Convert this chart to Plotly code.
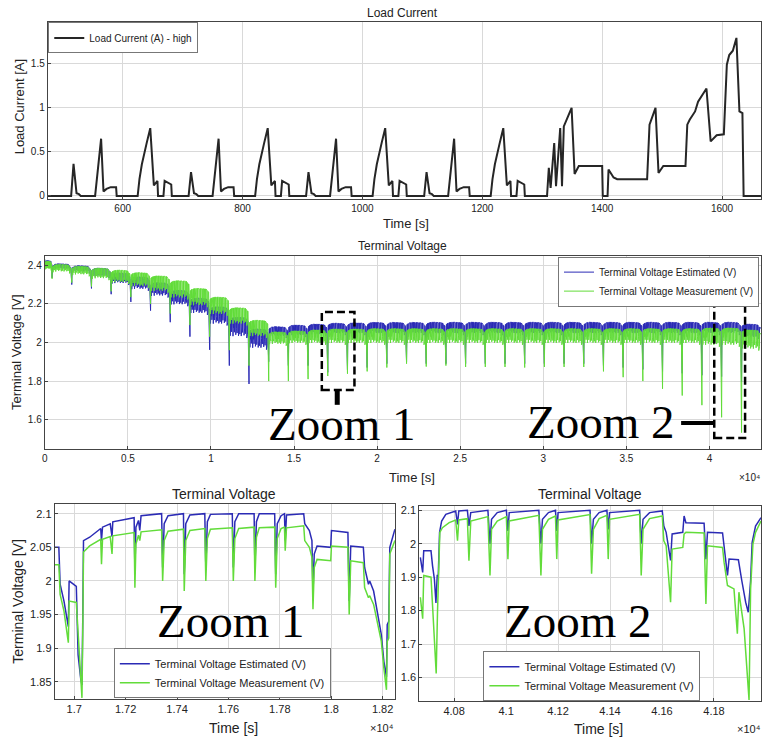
import numpy as np
import plotly.graph_objects as go

W, H = 762, 743

# ---------------- Load current (top panel) ----------------
cur_t = [475, 514, 518, 523, 527, 530,
         554, 559, 564, 568, 573, 580, 589, 590,
         625, 628, 632, 640, 646, 652, 656, 658, 659, 668, 670, 677, 681, 682,
         710, 714, 719, 723, 726,
         750, 755, 760, 764, 769, 776, 785, 786,
         821, 824, 828, 836, 842, 848, 852, 854, 855, 864, 866, 873, 877, 878,
         906, 910, 915, 919, 922,
         946, 951, 956, 960, 965, 972, 981, 982,
         1017, 1020, 1024, 1032, 1038, 1044, 1048, 1050, 1051, 1060, 1062, 1069, 1073, 1074,
         1103, 1107, 1112, 1116, 1119,
         1143, 1148, 1153, 1157, 1162, 1169, 1178, 1179,
         1214, 1217, 1221, 1229, 1235, 1241, 1245, 1247, 1248, 1257, 1259, 1266, 1270, 1271,
         1308, 1311, 1314, 1320, 1323, 1330, 1333, 1336, 1349, 1354, 1361, 1400, 1401,
         1409, 1410.6, 1419, 1425, 1475, 1479, 1489, 1494, 1502, 1539, 1542, 1546, 1555,
         1560, 1574, 1581, 1591, 1603, 1608, 1612, 1618, 1624, 1629, 1634, 1636, 1665]
cur_a = [0, 0, 0.365, 0.03, 0.02, 0,
         0, 0.33, 0.65, 0.05, 0.08, 0.1, 0.1, 0,
         0, 0.19, 0.36, 0.6, 0.77, 0.12, 0.15, 0.17, 0, 0, 0.17, 0.14, 0.13, 0,
         0, 0.27, 0.03, 0.02, 0,
         0, 0.33, 0.65, 0.05, 0.08, 0.1, 0.1, 0,
         0, 0.19, 0.36, 0.6, 0.77, 0.12, 0.15, 0.17, 0, 0, 0.17, 0.14, 0.13, 0,
         0, 0.27, 0.03, 0.02, 0,
         0, 0.33, 0.65, 0.05, 0.08, 0.1, 0.1, 0,
         0, 0.19, 0.36, 0.6, 0.77, 0.12, 0.15, 0.17, 0, 0, 0.17, 0.14, 0.13, 0,
         0, 0.27, 0.03, 0.02, 0,
         0, 0.33, 0.65, 0.05, 0.08, 0.1, 0.1, 0,
         0, 0.19, 0.36, 0.6, 0.77, 0.12, 0.15, 0.17, 0, 0, 0.17, 0.14, 0.13, 0,
         0, 0.32, 0.09, 0.6, 0.11, 0.77, 0.11, 0.79, 1.0, 0.25, 0.34, 0.34, 0,
         0, 0.3, 0.21, 0.19, 0.19, 0.81, 1.0, 0.26, 0.34, 0.34, 0.81, 0.865, 0.96,
         1.07, 1.22, 0.62, 0.69, 0.7, 1.49, 1.6, 1.65, 1.795, 0.96, 0.94, 0, 0]

# ---------------- Terminal voltage overview (middle panel) ----------------
dip_t = [440, 1625, 2810, 3995, 5180, 6365, 7550, 8735, 9920, 11105, 12290, 13475,
         14660, 15845, 17030, 18215, 19400, 20585, 21770, 22955, 24140, 25325, 26510,
         27695, 28880, 30065, 31250, 32435, 33620, 34805, 35990, 37175, 38360, 39545,
         40730, 41930]
est_top = [2.425, 2.408, 2.398, 2.385, 2.36, 2.34, 2.31, 2.27, 2.23, 2.185, 2.13, 2.07,
           2.082, 2.09, 2.095, 2.1, 2.102, 2.104, 2.104, 2.104, 2.105, 2.105, 2.105,
           2.105, 2.105, 2.105, 2.105, 2.105, 2.105, 2.105, 2.105, 2.105, 2.105, 2.105,
           2.105, 2.105, 2.095]
est_low = [2.405, 2.385, 2.37, 2.345, 2.31, 2.28, 2.245, 2.2, 2.155, 2.1, 2.035, 1.975,
           2.035, 2.04, 2.045, 2.05, 2.05, 2.05, 2.05, 2.05, 2.05, 2.05, 2.05, 2.05, 2.05,
           2.05, 2.05, 2.05, 2.05, 2.05, 2.05, 2.05, 2.05, 2.05, 2.05, 2.05, 2.03]
meas_top = [2.422, 2.405, 2.395, 2.385, 2.375, 2.362, 2.345, 2.32, 2.28, 2.235, 2.18,
            2.115, 2.055, 2.06, 2.065, 2.07, 2.07, 2.072, 2.072, 2.072, 2.072, 2.072,
            2.072, 2.072, 2.072, 2.072, 2.072, 2.072, 2.072, 2.072, 2.072, 2.072, 2.072,
            2.072, 2.075, 2.075, 2.065]
meas_low = [2.385, 2.37, 2.355, 2.335, 2.315, 2.295, 2.27, 2.235, 2.195, 2.15, 2.1, 2.035,
            1.995, 2.0, 2.0, 2.0, 2.0, 2.0, 2.0, 2.0, 2.0, 2.0, 2.0, 2.0, 2.0, 2.0, 2.0,
            2.0, 2.0, 2.0, 2.0, 2.0, 2.0, 2.0, 1.99, 1.99, 1.97]
est_dip = [2.335, 2.30, 2.28, 2.25, 2.21, 2.165, 2.105, 2.03, 1.962, 1.88, 1.785, 1.90,
           1.88, 1.88, 1.845, 1.857, 1.87, 1.89, 1.90, 1.89, 1.89, 1.89, 1.89, 1.89, 1.89,
           1.89, 1.89, 1.89, 1.88, 1.87, 1.86, 1.85, 1.84, 1.83, 1.823, 1.795]
meas_dip = [2.33, 2.31, 2.29, 2.265, 2.235, 2.20, 2.15, 2.09, 2.03, 1.96, 1.88, 1.80,
            1.80, 1.81, 1.826, 1.838, 1.85, 1.87, 1.89, 1.875, 1.88, 1.873, 1.873, 1.873,
            1.87, 1.873, 1.873, 1.873, 1.85, 1.82, 1.80, 1.76, 1.725, 1.675, 1.612, 1.533]
start_v = 2.43
x_end = 43100

# ---------------- Zoom 1 ----------------
z1_t = [16924, 16940, 16945, 16960, 16977, 16980, 17008, 17015, 17025, 17030, 17033, 17036,
        17060, 17085, 17103, 17106, 17110, 17140, 17147, 17150, 17205, 17233, 17236, 17240,
        17250, 17255, 17260, 17340, 17344, 17350, 17365, 17425, 17428, 17434, 17450, 17508,
        17512, 17518, 17530, 17615, 17619, 17625, 17640, 17700, 17703, 17709, 17720, 17780,
        17784, 17790, 17805, 17818, 17821, 17826, 17893, 17897, 17915, 17925, 17929, 17934,
        17945, 17998, 18001, 18065, 18070, 18076, 18125, 18130, 18145, 18150, 18165, 18180,
        18195, 18205, 18215, 18218, 18224, 18228, 18240, 18248]
z1_est = [2.05, 2.05, 1.995, 1.97, 1.932, 2.0, 1.992, 1.89, 1.855, 1.845, 1.94, 2.06,
          2.065, 2.072, 2.078, 2.06, 2.08, 2.085, 2.066, 2.088, 2.092, 2.094, 2.015, 2.08,
          2.09, 2.075, 2.097, 2.1, 2.02, 2.085, 2.097, 2.1, 2.01, 2.085, 2.098, 2.1,
          2.02, 2.088, 2.099, 2.1, 2.02, 2.088, 2.1, 2.1, 2.02, 2.088, 2.1, 2.1,
          2.01, 2.085, 2.097, 2.1, 2.06, 2.098, 2.1, 2.085, 2.075, 2.06, 1.98, 2.04,
          2.052, 2.05, 2.075, 2.072, 1.97, 2.052, 2.05, 2.02, 1.995, 2.0, 1.985, 1.95,
          1.92, 1.88, 1.857, 1.935, 1.94, 2.05, 2.065, 2.077]
z1_meas = [2.024, 2.024, 1.98, 1.955, 1.908, 1.97, 1.968, 1.92, 1.86, 1.826, 1.92, 2.043,
           2.052, 2.058, 2.062, 2.025, 2.062, 2.066, 2.04, 2.067, 2.07, 2.072, 1.99, 2.055,
           2.068, 2.06, 2.073, 2.076, 2.0, 2.06, 2.074, 2.077, 1.985, 2.06, 2.075, 2.078,
           2.0, 2.063, 2.077, 2.079, 2.0, 2.063, 2.078, 2.08, 2.0, 2.065, 2.079, 2.08,
           1.99, 2.063, 2.078, 2.08, 2.045, 2.079, 2.082, 2.06, 2.05, 2.035, 1.958, 2.02,
           2.032, 2.03, 2.052, 2.05, 1.95, 2.03, 2.027, 1.99, 1.975, 1.978, 1.965, 1.935,
           1.91, 1.87, 1.838, 1.91, 1.915, 2.04, 2.052, 2.06]

# ---------------- Zoom 2 ----------------
z2e_t = [40670, 40679, 40683, 40711, 40717, 40724, 40730, 40735, 40739, 40744, 40752, 40768,
         40806, 40813, 40818, 40851, 40857, 40864, 40930, 40938, 40944, 40966, 41001, 41007,
         41012, 41126, 41134, 41140, 41163, 41190, 41195, 41200, 41323, 41329, 41336, 41358,
         41388, 41393, 41398, 41514, 41520, 41527, 41552, 41601, 41607, 41616, 41633, 41639,
         41680, 41685, 41692, 41762, 41769, 41775, 41833, 41839, 41852, 41858, 41894, 41907,
         41922, 41932, 41941, 41947, 41960, 41981]
z2e_v = [1.959, 1.914, 1.979, 1.979, 1.934, 1.895, 1.823, 1.905, 1.905, 2.034, 2.068, 2.088,
         2.098, 2.058, 2.098, 2.1, 2.053, 2.093, 2.1, 1.999, 2.073, 2.093, 2.1, 2.038,
         2.093, 2.1, 2.0, 2.073, 2.093, 2.1, 2.038, 2.093, 2.1, 2.0, 2.073, 2.093,
         2.1, 2.043, 2.093, 2.1, 2.0, 2.073, 2.093, 2.098, 2.053, 2.034, 1.95, 2.029,
         2.034, 2.083, 2.063, 2.061, 1.954, 2.034, 2.032, 1.994, 1.905, 1.954, 1.952, 1.89,
         1.825, 1.795, 1.89, 2.004, 2.053, 2.078]
z2m_t = [40670, 40679, 40683, 40711, 40717, 40724, 40731, 40736, 40745, 40755, 40781, 40806,
         40813, 40818, 40851, 40857, 40864, 40930, 40938, 40944, 40966, 41001, 41007, 41012,
         41126, 41134, 41140, 41163, 41190, 41195, 41200, 41323, 41329, 41336, 41358, 41388,
         41393, 41398, 41514, 41520, 41527, 41552, 41601, 41607, 41616, 41633, 41639, 41680,
         41685, 41692, 41762, 41769, 41775, 41833, 41839, 41852, 41877, 41890, 41896, 41916,
         41926, 41935, 41941, 41950, 41960, 41981]
z2m_v = [1.84, 1.776, 1.905, 1.9, 1.815, 1.696, 1.612, 1.795, 2.034, 2.048, 2.063, 2.071,
         2.009, 2.071, 2.075, 1.949, 2.068, 2.081, 1.905, 2.043, 2.068, 2.081, 1.954, 2.068,
         2.085, 1.905, 2.043, 2.073, 2.083, 1.954, 2.071, 2.087, 1.91, 2.043, 2.075, 2.085,
         1.954, 2.073, 2.088, 1.905, 2.043, 2.075, 2.083, 2.009, 1.994, 1.825, 1.984, 1.989,
         2.029, 2.034, 2.032, 1.82, 1.994, 1.989, 1.944, 1.875, 1.865, 1.731, 1.855, 1.746,
         1.637, 1.533, 1.865, 1.999, 2.034, 2.068]

# ---------------- styling constants ----------------
BLUE = '#2b2bb5'
GREEN = '#62dc3a'
FONT = 'Liberation Sans, Arial, sans-serif'
SERIF = 'Liberation Serif, Times New Roman, serif'

# within-cycle drawing template for the dense overview curves (styling only)
ENV_POS = [0.0, 0.02, 0.10, 0.30, 0.80, 0.95]
ENV_OFF = [-0.03, -0.012, -0.004, 0.0, -0.003, -0.02]
TOOTH_POS = [0.04, 0.075, 0.11, 0.145, 0.18, 0.215, 0.25, 0.285, 0.32, 0.355, 0.39, 0.425,
             0.46, 0.495, 0.53, 0.565, 0.60, 0.635, 0.67, 0.705, 0.74, 0.775, 0.81, 0.845,
             0.88, 0.915]
TOOTH_DEPTH = [0.9, 0.5, 0.75, 0.4, 1.0, 0.55, 0.8, 0.45, 0.95, 0.6, 0.85, 0.5, 1.0,
               0.6, 0.9, 0.7, 1.0, 0.5, 0.8, 0.6, 0.95, 0.55, 0.85, 0.65, 1.0, 0.75]


def overview(top, low, dips):
    bounds = [0.0] + dip_t + [x_end]
    xs, ys = [0.0], [start_v]
    for j in range(len(top)):
        ta, tb = bounds[j], bounds[j + 1]
        L = tb - ta
        pts = []
        for p, off in zip(ENV_POS, ENV_OFF):
            if j == 0 and p < 0.1:
                continue
            pts.append((ta + p * L, top[j] + off))
        for p, d in zip(TOOTH_POS, TOOTH_DEPTH):
            e = top[j] + float(np.interp(p, ENV_POS, ENV_OFF))
            t = ta + p * L
            pts += [(t, e), (t + 0.006 * L, e - d * (top[j] - low[j])), (t + 0.012 * L, e)]
        pts.sort()
        for t, v in pts:
            xs.append(t)
            ys.append(v)
        xs.append(tb)
        ys.append(dips[j] if j < len(dips) else top[j] + ENV_OFF[-1])
    return xs, ys


def px(x):
    return x / W


def py(y):
    return 1 - y / H


fig = go.Figure()

fig.add_trace(go.Scatter(x=cur_t, y=cur_a, mode='lines', name='Load Current (A) - high',
                         line=dict(color='#262626', width=2), xaxis='x', yaxis='y',
                         legend='legend', showlegend=True))

ex, ey = overview(est_top, est_low, est_dip)
mx, my = overview(meas_top, meas_low, meas_dip)
fig.add_trace(go.Scatter(x=ex, y=ey, mode='lines', name='Terminal Voltage Estimated (V)',
                         line=dict(color=BLUE, width=1), xaxis='x2', yaxis='y2',
                         legend='legend2', showlegend=True))
fig.add_trace(go.Scatter(x=mx, y=my, mode='lines', name='Terminal Voltage Measurement (V)',
                         line=dict(color=GREEN, width=1), xaxis='x2', yaxis='y2',
                         legend='legend2', showlegend=True))

fig.add_trace(go.Scatter(x=z1_t, y=z1_est, mode='lines', name='Terminal Voltage Estimated (V)',
                         line=dict(color=BLUE, width=1.5), xaxis='x3', yaxis='y3',
                         legend='legend3', showlegend=True))
fig.add_trace(go.Scatter(x=z1_t, y=z1_meas, mode='lines', name='Terminal Voltage Measurement (V)',
                         line=dict(color=GREEN, width=1.5), xaxis='x3', yaxis='y3',
                         legend='legend3', showlegend=True))

fig.add_trace(go.Scatter(x=z2e_t, y=z2e_v, mode='lines', name='Terminal Voltage Estimated (V)',
                         line=dict(color=BLUE, width=1.5), xaxis='x4', yaxis='y4',
                         legend='legend4', showlegend=True))
fig.add_trace(go.Scatter(x=z2m_t, y=z2m_v, mode='lines', name='Terminal Voltage Measurement (V)',
                         line=dict(color=GREEN, width=1.5), xaxis='x4', yaxis='y4',
                         legend='legend4', showlegend=True))

axis_common = dict(showline=True, mirror=True, linecolor='#444', linewidth=1,
                   showgrid=True, gridcolor='#d9d9d9', gridwidth=1, zeroline=False,
                   ticks='inside', ticklen=3, tickcolor='#444',
                   tickfont=dict(family=FONT, size=10, color='#222'))
axis_big = dict(axis_common, tickfont=dict(family=FONT, size=11, color='#222'))

x_top_ticks = [600, 800, 1000, 1200, 1400, 1600]
y_top_ticks = [0, 0.5, 1, 1.5]
x_mid_ticks = [0, 5000, 10000, 15000, 20000, 25000, 30000, 35000, 40000]
x_mid_text = ['0', '0.5', '1', '1.5', '2', '2.5', '3', '3.5', '4']
y_mid_ticks = [1.6, 1.8, 2.0, 2.2, 2.4]
y_mid_text = ['1.6', '1.8', '2', '2.2', '2.4']
x_z1_ticks = [17000, 17200, 17400, 17600, 17800, 18000, 18200]
x_z1_text = ['1.7', '1.72', '1.74', '1.76', '1.78', '1.8', '1.82']
y_z1_ticks = [1.85, 1.9, 1.95, 2.0, 2.05, 2.1]
y_z1_text = ['1.85', '1.9', '1.95', '2', '2.05', '2.1']
x_z2_ticks = [40800, 41000, 41200, 41400, 41600, 41800]
x_z2_text = ['4.08', '4.1', '4.12', '4.14', '4.16', '4.18']
y_z2_ticks = [1.6, 1.7, 1.8, 1.9, 2.0, 2.1]
y_z2_text = ['1.6', '1.7', '1.8', '1.9', '2', '2.1']

fig.update_layout(
    width=W, height=H, margin=dict(l=0, r=0, t=0, b=0),
    paper_bgcolor='white', plot_bgcolor='white', showlegend=True,
    font=dict(family=FONT, size=10, color='#222'),
    xaxis=dict(axis_common, domain=[px(45), 1.0], range=[475, 1665], anchor='y',
               tickvals=x_top_ticks),
    yaxis=dict(axis_common, domain=[py(198), py(20)], range=[-0.034, 1.977], anchor='x',
               tickvals=y_top_ticks, ticktext=['0', '0.5', '1', '1.5']),
    xaxis2=dict(axis_common, domain=[px(42), 1.0], range=[0, x_end], anchor='y2',
                tickvals=x_mid_ticks, ticktext=x_mid_text),
    yaxis2=dict(axis_common, domain=[py(449), py(255)], range=[1.45, 2.45], anchor='x2',
                tickvals=y_mid_ticks, ticktext=y_mid_text),
    xaxis3=dict(axis_big, domain=[px(52), px(394)], range=[16924, 18248], anchor='y3',
                tickvals=x_z1_ticks, ticktext=x_z1_text),
    yaxis3=dict(axis_big, domain=[py(701), py(505)], range=[1.824, 2.114], anchor='x3',
                tickvals=y_z1_ticks, ticktext=y_z1_text),
    xaxis4=dict(axis_big, domain=[px(418.5), 1.0], range=[40666, 41981], anchor='y4',
                tickvals=x_z2_ticks, ticktext=x_z2_text),
    yaxis4=dict(axis_big, domain=[py(703), py(507)], range=[1.529, 2.112], anchor='x4',
                tickvals=y_z2_ticks, ticktext=y_z2_text),
)

leg_common = dict(bgcolor='white', bordercolor='#777', borderwidth=1, tracegroupgap=0,
                  itemwidth=30, font=dict(family=FONT, size=10, color='#222'))
fig.update_layout(
    legend=dict(leg_common, x=px(45.5), y=py(20.5), xanchor='left', yanchor='top'),
    legend2=dict(leg_common, x=px(760), y=py(256), xanchor='right', yanchor='top'),
    legend3=dict(leg_common, x=px(220.5), y=py(700), xanchor='center', yanchor='bottom',
                 font=dict(family=FONT, size=11, color='#222')),
    legend4=dict(leg_common, x=px(592), y=py(703), xanchor='center', yanchor='bottom',
                 font=dict(family=FONT, size=11, color='#222')),
)

ann = []


def text(x, y, s, size, family=FONT, angle=0, color='#222'):
    ann.append(dict(x=px(x), y=py(y), xref='paper', yref='paper', text=s, showarrow=False,
                    xanchor='center', yanchor='middle', textangle=angle,
                    font=dict(family=family, size=size, color=color)))


text(402, 11, 'Load Current', 12)
text(17, 105, 'Load Current [A]', 13, angle=-90)
text(405, 223, 'Time [s]', 13)
text(402, 245, 'Terminal Voltage', 12)
text(13, 352, 'Terminal Voltage [V]', 13, angle=-90)
text(411, 478, 'Time [s]', 13)
text(750, 478, '×10⁴', 10)
text(222, 495, 'Terminal Voltage', 14)
text(15, 602, 'Terminal Voltage [V]', 14, angle=-90)
text(232, 730, 'Time [s]', 14)
text(381, 730, '×10⁴', 11)
text(590, 495, 'Terminal Voltage', 14)
text(599, 731, 'Time [s]', 14)
text(750, 731, '×10⁴', 11)

text(341, 424, 'Zoom 1', 47, family=SERIF, color='black')
text(601, 422, 'Zoom 2', 47, family=SERIF, color='black')
text(229, 622, 'Zoom 1', 47, family=SERIF, color='black')
text(578, 622, 'Zoom 2', 47, family=SERIF, color='black')
fig.update_layout(annotations=ann)

shapes = [
    dict(type='rect', xref='paper', yref='paper', x0=px(320.5), x1=px(353.3), y0=py(390),
         y1=py(311.7), line=dict(color='black', width=2.5, dash='8px,4px')),
    dict(type='line', xref='paper', yref='paper', x0=px(336), x1=px(336), y0=py(390),
         y1=py(405), line=dict(color='black', width=5)),
    dict(type='rect', xref='paper', yref='paper', x0=px(715), x1=px(746), y0=py(438.3),
         y1=py(303.3), line=dict(color='black', width=2.5, dash='8px,4px')),
    dict(type='line', xref='paper', yref='paper', x0=px(681.7), x1=px(715), y0=py(423.3),
         y1=py(423.3), line=dict(color='black', width=4)),
]
fig.update_layout(shapes=shapes)

fig.write_html('out.html')
